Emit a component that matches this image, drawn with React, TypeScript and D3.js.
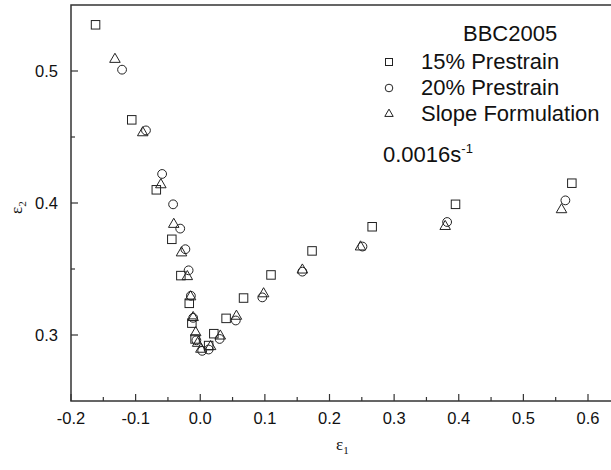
import React from 'react';
import * as d3 from 'd3';

const width = 611;
const height = 470;
const margin = { left: 71, top: 5, bottom: 69 };

// 15% prestrain (squares)
const prestrain15X = [-0.162, -0.106, -0.068, -0.044, -0.030, -0.017, -0.013, -0.008, 0.013, 0.021, 0.040, 0.067, 0.1095, 0.173, 0.266, 0.395, 0.575];
const prestrain15Y = [0.535, 0.463, 0.410, 0.3725, 0.345, 0.324, 0.309, 0.297, 0.292, 0.301, 0.3126, 0.328, 0.3455, 0.3637, 0.382, 0.399, 0.415];

// 20% prestrain (circles)
const prestrain20X = [-0.121, -0.084, -0.059, -0.042, -0.031, -0.023, -0.018, -0.0145, -0.011, -0.006, 0.003, 0.013, 0.030, 0.055, 0.096, 0.158, 0.251, 0.382, 0.565];
const prestrain20Y = [0.501, 0.455, 0.422, 0.399, 0.3806, 0.365, 0.349, 0.3297, 0.313, 0.296, 0.288, 0.289, 0.297, 0.311, 0.3285, 0.348, 0.367, 0.3856, 0.402];

// slope formulation (triangles)
const slopeX = [-0.132, -0.089, -0.061, -0.041, -0.029, -0.020, -0.015, -0.011, -0.007, -0.004, 0.001, 0.016, 0.031, 0.056, 0.098, 0.158, 0.248, 0.379, 0.559];
const slopeY = [0.5096, 0.454, 0.4146, 0.3846, 0.363, 0.345, 0.3297, 0.314, 0.3025, 0.2945, 0.290, 0.292, 0.300, 0.315, 0.332, 0.350, 0.3675, 0.383, 0.3957];

const xTicks = [-0.2, -0.1, 0.0, 0.1, 0.2, 0.3, 0.4, 0.5, 0.6];
const xMinor = [-0.15, -0.05, 0.05, 0.15, 0.25, 0.35, 0.45, 0.55];
const yTicks = [0.3, 0.4, 0.5];
const yMinor = [0.35, 0.45];

const legendItems = ['15% Prestrain', '20% Prestrain', 'Slope Formulation'];

const font = 'Arial, "Liberation Sans", sans-serif';
const serif = '"Times New Roman", "Liberation Serif", serif';

const x = d3.scaleLinear().domain([-0.2, 0.6]).range([margin.left, 588]);
const y = d3.scaleLinear().domain([0.25, 0.55]).range([height - margin.bottom, margin.top]);

const tri = d3.symbol().type(d3.symbolTriangle).size(48)();

const Square = ({ cx, cy, s = 8.5 }: { cx: number; cy: number; s?: number }) => (
  <rect x={cx - s / 2} y={cy - s / 2} width={s} height={s} fill="none" stroke="#222" strokeWidth={1} />
);
const Circle = ({ cx, cy, r = 4.4 }: { cx: number; cy: number; r?: number }) => (
  <circle cx={cx} cy={cy} r={r} fill="none" stroke="#222" strokeWidth={1} />
);
const Triangle = ({ cx, cy, k = 1 }: { cx: number; cy: number; k?: number }) => (
  <path d={tri!} transform={`translate(${cx},${cy + 1}) scale(${k})`} fill="none" stroke="#222" strokeWidth={1 / k} />
);

export default function App() {
  const bottom = height - margin.bottom;
  return (
    <svg width={width} height={height} style={{ position: 'absolute', left: 0, top: 0, background: '#fff' }} fontFamily={font}>
      {/* frame, right side runs off the picture */}
      <rect x={margin.left} y={margin.top} width={width + 20 - margin.left} height={bottom - margin.top} fill="none" stroke="#333" strokeWidth={1.5} />

      {/* x ticks */}
      {xTicks.map(t => (
        <g key={'x' + t}>
          <line x1={x(t)} x2={x(t)} y1={bottom} y2={bottom - 7} stroke="#333" strokeWidth={1.2} />
          <text x={x(t)} y={bottom + 23} textAnchor="middle" fontSize={16.5} fill="#111">{t.toFixed(1)}</text>
        </g>
      ))}
      {xMinor.map(t => (
        <line key={'xm' + t} x1={x(t)} x2={x(t)} y1={bottom} y2={bottom - 4} stroke="#333" strokeWidth={1.2} />
      ))}

      {/* y ticks */}
      {yTicks.map(t => (
        <g key={'y' + t}>
          <line x1={margin.left} x2={margin.left + 7} y1={y(t)} y2={y(t)} stroke="#333" strokeWidth={1.2} />
          <text x={margin.left - 13} y={y(t) + 6} textAnchor="end" fontSize={16.5} fill="#111">{t.toFixed(1)}</text>
        </g>
      ))}
      {yMinor.map(t => (
        <line key={'ym' + t} x1={margin.left} x2={margin.left + 4} y1={y(t)} y2={y(t)} stroke="#333" strokeWidth={1.2} />
      ))}

      {/* axis titles */}
      <text x={336} y={450} fontSize={17} fontFamily={serif} fill="#111">
        ε<tspan fontSize={11} dy={4}>1</tspan>
      </text>
      <text transform="translate(22,214) rotate(-90)" fontSize={17} fontFamily={serif} fill="#111">
        ε<tspan fontSize={11} dy={4}>2</tspan>
      </text>

      {/* data */}
      {prestrain15X.map((v, i) => <Square key={'s' + i} cx={x(v)} cy={y(prestrain15Y[i])} />)}
      {prestrain20X.map((v, i) => <Circle key={'c' + i} cx={x(v)} cy={y(prestrain20Y[i])} />)}
      {slopeX.map((v, i) => <Triangle key={'t' + i} cx={x(v)} cy={y(slopeY[i])} />)}

      {/* legend */}
      <text x={463} y={41} fontSize={22} fill="#111">BBC2005</text>
      {legendItems.map((name, i) => {
        const ly = 62 + i * 26;
        return (
          <g key={name}>
            {i === 0 && <Square cx={389} cy={ly} s={7} />}
            {i === 1 && <Circle cx={389} cy={ly} r={3.8} />}
            {i === 2 && <Triangle cx={389} cy={ly - 1} k={0.8} />}
            <text x={421} y={ly + 7} fontSize={22} fill="#111">{name}</text>
          </g>
        );
      })}
      <text x={383} y={162} fontSize={22} fill="#111">
        0.0016s<tspan fontSize={13} dy={-9}>-1</tspan>
      </text>
    </svg>
  );
}
